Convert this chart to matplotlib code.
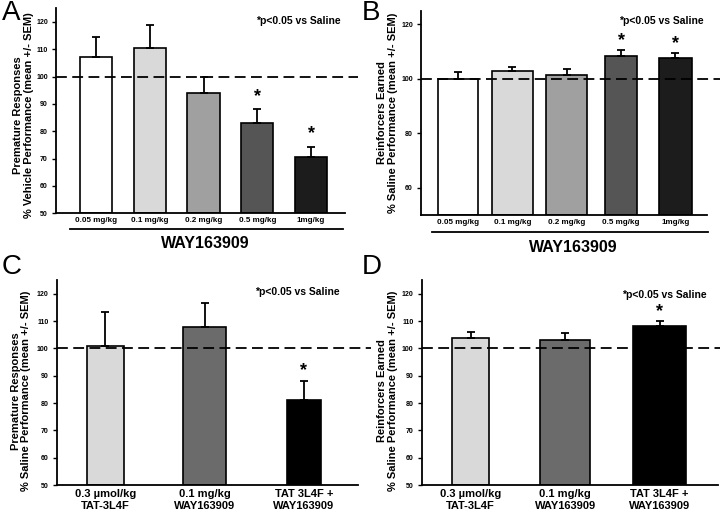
import numpy as np
import matplotlib
matplotlib.use("Agg")
import matplotlib.pyplot as plt
from matplotlib.lines import Line2D

plt.rcParams['font.family'] = ['Liberation Sans', 'DejaVu Sans']
plt.rcParams['font.weight'] = 'bold'

# panel A / B : WAY163909 dose response
doses = ['0.05 mg/kg', '0.1 mg/kg', '0.2 mg/kg', '0.5 mg/kg', '1mg/kg']
prem_dose = [107.1, 110.6, 94.1, 83.0, 70.6]
prem_dose_sem = [7.3, 8.1, 5.8, 5.2, 3.8]
prem_dose_sig = [False, False, False, True, True]
reinf_dose = [100.0, 102.9, 101.4, 108.5, 107.6]
reinf_dose_sem = [2.6, 1.6, 2.3, 2.2, 1.9]
reinf_dose_sig = [False, False, False, True, True]

# panel C / D : combination
combos = ['0.3 \u00b5mol/kg\nTAT-3L4F', '0.1 mg/kg\nWAY163909', 'TAT 3L4F +\nWAY163909']
prem_combo = [101.0, 107.9, 81.0]
prem_combo_sem = [12.2, 8.6, 7.2]
prem_combo_sig = [False, False, True]
reinf_combo = [104.0, 103.0, 108.1]
reinf_combo_sem = [2.0, 2.6, 2.0]
reinf_combo_sig = [False, False, True]

dose_colors = ['#ffffff', '#d9d9d9', '#a0a0a0', '#555555', '#1c1c1c']
combo_colors = ['#d9d9d9', '#6b6b6b', '#000000']


def panel(ax, labels, vals, sem, sig, colors, widths, xlim, yticks, ylabel,
          lab_xy, tick_fs, note_x, note_y, star_off):
    x = np.arange(len(vals))
    ax.bar(x, np.array(vals) - 50, bottom=50, width=widths, color=colors,
           edgecolor='black', linewidth=1.2, zorder=2)
    ax.errorbar(x, vals, yerr=[np.zeros(len(sem)), sem], fmt='none',
                ecolor='black', elinewidth=1.3, capsize=3, capthick=1.3, zorder=3)
    ax.axhline(100, xmin=0, xmax=1.045, color='black', lw=1.3,
               dashes=(6, 3), clip_on=False, zorder=4)
    for xi, v, s, g in zip(x, vals, sem, sig):
        if g:
            ax.text(xi, v + s + star_off, '*', ha='center', va='bottom',
                    fontsize=13, fontweight='bold')
    ax.set_xlim(*xlim)
    ax.set_ylim(50, 125)
    ax.set_yticks(yticks)
    ax.set_xticks(x)
    ax.set_xticklabels(labels, fontsize=tick_fs, fontweight='bold')
    ax.tick_params(axis='x', length=0, pad=3)
    ax.tick_params(axis='y', length=3, width=1, pad=3, labelsize=5)
    for t in ax.get_yticklabels():
        t.set_fontweight('bold')
    for s in ['top', 'right']:
        ax.spines[s].set_visible(False)
    for s in ['left', 'bottom']:
        ax.spines[s].set_linewidth(1.3)
    ax.set_ylabel(ylabel, fontsize=8, fontweight='bold', va='center',
                  linespacing=1.1)
    ax.yaxis.set_label_coords(*lab_xy)
    ax.text(note_x, note_y, '*p<0.05 vs Saline', ha='center', va='center',
            fontsize=7.5, fontweight='bold', transform=ax.transAxes)


fig = plt.figure(figsize=(7.2, 5.15), dpi=100)

axA = fig.add_axes([0.078, 0.586, 0.401, 0.398])
panel(axA, doses, prem_dose, prem_dose_sem, prem_dose_sig, dose_colors, 0.6,
      (-0.744, 4.63), np.arange(50, 121, 10),
      'Premature Responses\n% Vehicle Performance (mean +/- SEM)',
      (-0.112, 0.48), 5.8, 0.84, 0.94, 1.5)

axB = fig.add_axes([0.585, 0.583, 0.397, 0.396])
panel(axB, doses, reinf_dose, reinf_dose_sem, reinf_dose_sig, dose_colors,
      [0.75, 0.75, 0.75, 0.59, 0.59], (-0.676, 4.58), [60, 80, 100, 120],
      'Reinforcers Earned\n% Saline Performance (mean +/- SEM)',
      (-0.117, 0.5), 5.8, 0.84, 0.952, 0.2)

axC = fig.add_axes([0.079, 0.058, 0.418, 0.398])
panel(axC, combos, prem_combo, prem_combo_sem, prem_combo_sig, combo_colors,
      [0.37, 0.44, 0.34], (-0.49, 2.545), np.arange(50, 121, 10),
      'Premature Responses\n% Saline Performance (mean +/- SEM)',
      (-0.119, 0.46), 8, 0.80, 0.94, 0.5)

axD = fig.add_axes([0.586, 0.058, 0.411, 0.398])
panel(axD, combos, reinf_combo, reinf_combo_sem, reinf_combo_sig, combo_colors,
      [0.39, 0.53, 0.56], (-0.517, 2.617), np.arange(50, 121, 10),
      'Reinforcers Earned\n% Saline Performance (mean +/- SEM)',
      (-0.115, 0.46), 8, 0.82, 0.93, 0.2)

# drug bracket under the dose panels
for ax, x0, x1, ly, tx, ty in [(axA, 0.048, 0.993, -0.078, 0.516, -0.147),
                                (axB, 0.038, 1.003, -0.083, 0.531, -0.162)]:
    ax.add_line(Line2D([x0, x1], [ly, ly], color='black', lw=1.3,
                       transform=ax.transAxes, clip_on=False))
    ax.text(tx, ty, 'WAY163909', ha='center', va='center', fontsize=11.5,
            fontweight='bold', transform=ax.transAxes)

# panel letters
for lx, ly, t in [(0.002, 1.0, 'A'), (0.503, 1.0, 'B'),
                  (0.002, 0.506, 'C'), (0.503, 0.506, 'D')]:
    fig.text(lx, ly, t, fontsize=20, fontweight='normal', va='top', ha='left')

fig.savefig('out.png', dpi=100)
